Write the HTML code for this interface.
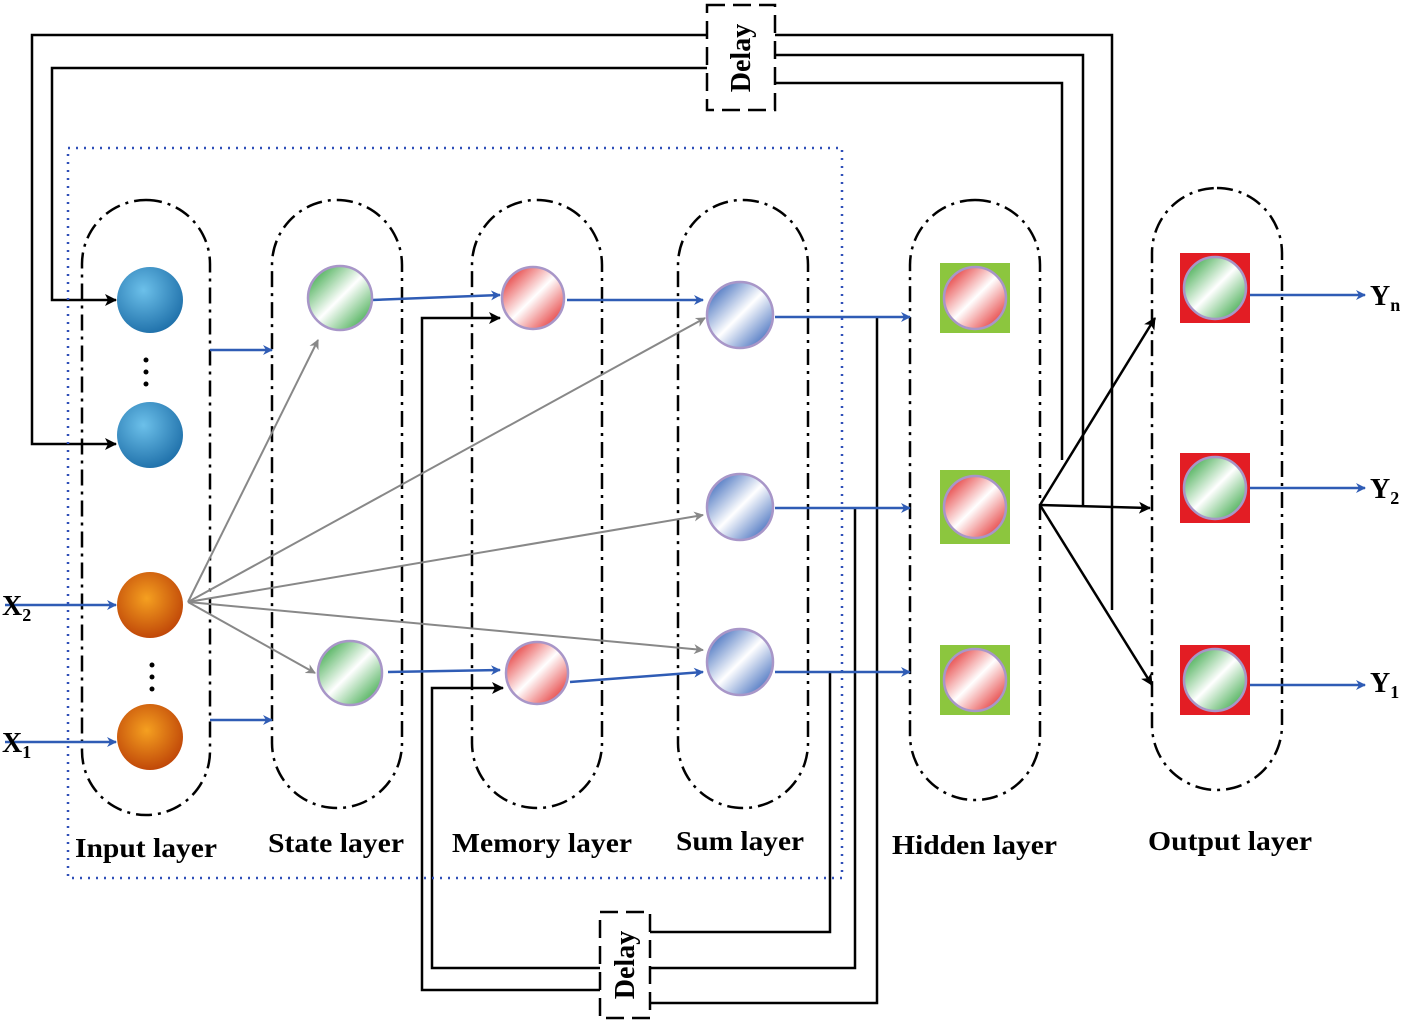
<!DOCTYPE html>
<html><head><style>body{margin:0;background:#fff}svg{display:block}</style></head><body>
<svg width="1405" height="1024" viewBox="0 0 1405 1024" xmlns="http://www.w3.org/2000/svg" font-family="Liberation Serif, serif">
<defs>
<marker id="ab" markerWidth="10" markerHeight="10" refX="9" refY="5" orient="auto" markerUnits="userSpaceOnUse"><path d="M0,0 L10,5 L0,10 L3,5z" fill="#2f5cb5"/></marker>
<marker id="ak" markerWidth="12" markerHeight="12" refX="11" refY="6" orient="auto" markerUnits="userSpaceOnUse"><path d="M0,0 L12,6 L0,12 L3,6z" fill="#000"/></marker>
<marker id="ag" markerWidth="10" markerHeight="10" refX="9" refY="5" orient="auto" markerUnits="userSpaceOnUse"><path d="M0,0 L10,5 L0,10 L3,5z" fill="#888"/></marker>
<linearGradient id="gg" x1="0" y1="0" x2="1" y2="1"><stop offset="0" stop-color="#1a9a2a"/><stop offset=".5" stop-color="#fff"/><stop offset="1" stop-color="#1a9a2a"/></linearGradient>
<linearGradient id="gr" x1="0" y1="0" x2="1" y2="1"><stop offset="0" stop-color="#e01010"/><stop offset=".5" stop-color="#fff"/><stop offset="1" stop-color="#e01010"/></linearGradient>
<linearGradient id="gb" x1="0" y1="0" x2="1" y2="1"><stop offset="0" stop-color="#1a4fb0"/><stop offset=".5" stop-color="#fff"/><stop offset="1" stop-color="#1a4fb0"/></linearGradient>
<radialGradient id="gw" cx=".4" cy=".35" r=".7"><stop offset="0" stop-color="#6cc0ea"/><stop offset="1" stop-color="#1d6ea8"/></radialGradient>
<radialGradient id="go" cx=".45" cy=".4" r=".7"><stop offset="0" stop-color="#f5a020"/><stop offset="1" stop-color="#b83a05"/></radialGradient>
</defs>
<g fill="none" stroke="#000" stroke-width="2.5">
<polyline points="707,35 32,35 32,444 116,444" marker-end="url(#ak)"/>
<polyline points="707,68 52,68 52,300 116,300" marker-end="url(#ak)"/>
<polyline points="775,35 1112,35 1112,610"/>
<polyline points="775,55 1083,55 1083,505"/>
<polyline points="775,83 1062,83 1062,460"/>
<polyline points="600,968 432,968 432,688 503,688" marker-end="url(#ak)"/>
<polyline points="600,990 422,990 422,318 500,318" marker-end="url(#ak)"/>
<polyline points="650,932 830,932 830,672"/>
<polyline points="650,968 855,968 855,508"/>
<polyline points="650,1003 877,1003 877,317"/>
<line x1="1040" y1="505" x2="1155" y2="318" marker-end="url(#ak)"/>
<line x1="1040" y1="505" x2="1150" y2="508" marker-end="url(#ak)"/>
<line x1="1040" y1="505" x2="1152" y2="685" marker-end="url(#ak)"/>
</g>
<g fill="#fff" stroke="#000" stroke-width="2.5" stroke-dasharray="18,8">
<rect x="707" y="5" width="68" height="105"/>
<rect x="600" y="912" width="50" height="106"/>
</g>
<text transform="translate(750,58) rotate(-90)" font-size="28" font-weight="bold" text-anchor="middle">Delay</text>
<text transform="translate(634,965) rotate(-90)" font-size="28" font-weight="bold" text-anchor="middle">Delay</text>
<rect x="68" y="148" width="774" height="730" fill="none" stroke="#2f4fb8" stroke-width="2.5" stroke-dasharray="2,6"/>
<g fill="none" stroke="#000" stroke-width="2.5" stroke-dasharray="16,6,3,6">
<rect x="82" y="200" width="128" height="615" rx="64"/>
<rect x="272" y="200" width="130" height="608" rx="65"/>
<rect x="472" y="200" width="130" height="608" rx="65"/>
<rect x="678" y="200" width="130" height="608" rx="65"/>
<rect x="910" y="200" width="130" height="600" rx="65"/>
<rect x="1152" y="188" width="130" height="602" rx="65"/>
</g>
<g stroke="#2f5cb5" stroke-width="2.5" marker-end="url(#ab)">
<line x1="210" y1="350" x2="272" y2="350"/>
<line x1="210" y1="720" x2="272" y2="720"/>
<line x1="372" y1="300" x2="500" y2="295"/>
<line x1="567" y1="300" x2="703" y2="300"/>
<line x1="775" y1="317" x2="910" y2="317"/>
<line x1="775" y1="508" x2="910" y2="508"/>
<line x1="775" y1="672" x2="910" y2="672"/>
<line x1="388" y1="672" x2="500" y2="670"/>
<line x1="570" y1="682" x2="703" y2="672"/>
<line x1="1250" y1="295" x2="1365" y2="295"/>
<line x1="1250" y1="488" x2="1365" y2="488"/>
<line x1="1250" y1="685" x2="1365" y2="685"/>
<line x1="5" y1="605" x2="116" y2="605"/>
<line x1="5" y1="742" x2="116" y2="742"/>
</g>
<g stroke="#888" stroke-width="2" marker-end="url(#ag)">
<line x1="188" y1="602" x2="318" y2="340"/>
<line x1="188" y1="602" x2="705" y2="318"/>
<line x1="188" y1="602" x2="703" y2="515"/>
<line x1="188" y1="602" x2="703" y2="650"/>
<line x1="188" y1="602" x2="315" y2="673"/>
</g>
<g stroke="#a896c8" stroke-width="2.5">
<circle cx="150" cy="300" r="33" fill="url(#gw)" stroke="none"/>
<circle cx="150" cy="435" r="33" fill="url(#gw)" stroke="none"/>
<circle cx="150" cy="605" r="33" fill="url(#go)" stroke="none"/>
<circle cx="150" cy="737" r="33" fill="url(#go)" stroke="none"/>
<circle cx="340" cy="298" r="32" fill="url(#gg)"/>
<circle cx="350" cy="673" r="32" fill="url(#gg)"/>
<circle cx="533" cy="298" r="31" fill="url(#gr)"/>
<circle cx="537" cy="673" r="31" fill="url(#gr)"/>
<circle cx="740" cy="315" r="33" fill="url(#gb)"/>
<circle cx="740" cy="507" r="33" fill="url(#gb)"/>
<circle cx="740" cy="662" r="33" fill="url(#gb)"/>
<rect x="940" y="263" width="70" height="70" fill="#8cc63e" stroke="none"/>
<rect x="940" y="470" width="70" height="74" fill="#8cc63e" stroke="none"/>
<rect x="940" y="645" width="70" height="70" fill="#8cc63e" stroke="none"/>
<circle cx="975" cy="298" r="31" fill="url(#gr)"/>
<circle cx="975" cy="507" r="31" fill="url(#gr)"/>
<circle cx="975" cy="680" r="31" fill="url(#gr)"/>
<rect x="1180" y="253" width="70" height="70" fill="#e31d24" stroke="none"/>
<rect x="1180" y="453" width="70" height="70" fill="#e31d24" stroke="none"/>
<rect x="1180" y="645" width="70" height="70" fill="#e31d24" stroke="none"/>
<circle cx="1215" cy="288" r="31" fill="url(#gg)"/>
<circle cx="1215" cy="488" r="31" fill="url(#gg)"/>
<circle cx="1215" cy="680" r="31" fill="url(#gg)"/>
</g>
<g fill="#000">
<circle cx="146" cy="360" r="2.5"/><circle cx="146" cy="372" r="2.5"/><circle cx="146" cy="384" r="2.5"/>
<circle cx="152" cy="665" r="2.5"/><circle cx="152" cy="677" r="2.5"/><circle cx="152" cy="689" r="2.5"/>
</g>
<g font-size="28" font-weight="bold">
<text x="2" y="615">X<tspan font-size="18" dy="6">2</tspan></text>
<text x="2" y="752">X<tspan font-size="18" dy="6">1</tspan></text>
<text x="1370" y="305">Y<tspan font-size="18" dy="6">n</tspan></text>
<text x="1370" y="498">Y<tspan font-size="18" dy="6">2</tspan></text>
<text x="1370" y="692">Y<tspan font-size="18" dy="6">1</tspan></text>
</g>
<g font-size="27" font-weight="bold" lengthAdjust="spacingAndGlyphs">
<text x="75" y="857" textLength="142" lengthAdjust="spacingAndGlyphs">Input layer</text>
<text x="268" y="852" textLength="136" lengthAdjust="spacingAndGlyphs">State layer</text>
<text x="452" y="852" textLength="180" lengthAdjust="spacingAndGlyphs">Memory layer</text>
<text x="676" y="850" textLength="128" lengthAdjust="spacingAndGlyphs">Sum layer</text>
<text x="892" y="854" textLength="165" lengthAdjust="spacingAndGlyphs">Hidden layer</text>
<text x="1148" y="850" textLength="164" lengthAdjust="spacingAndGlyphs">Output layer</text>
</g>
</svg>
</body></html>
